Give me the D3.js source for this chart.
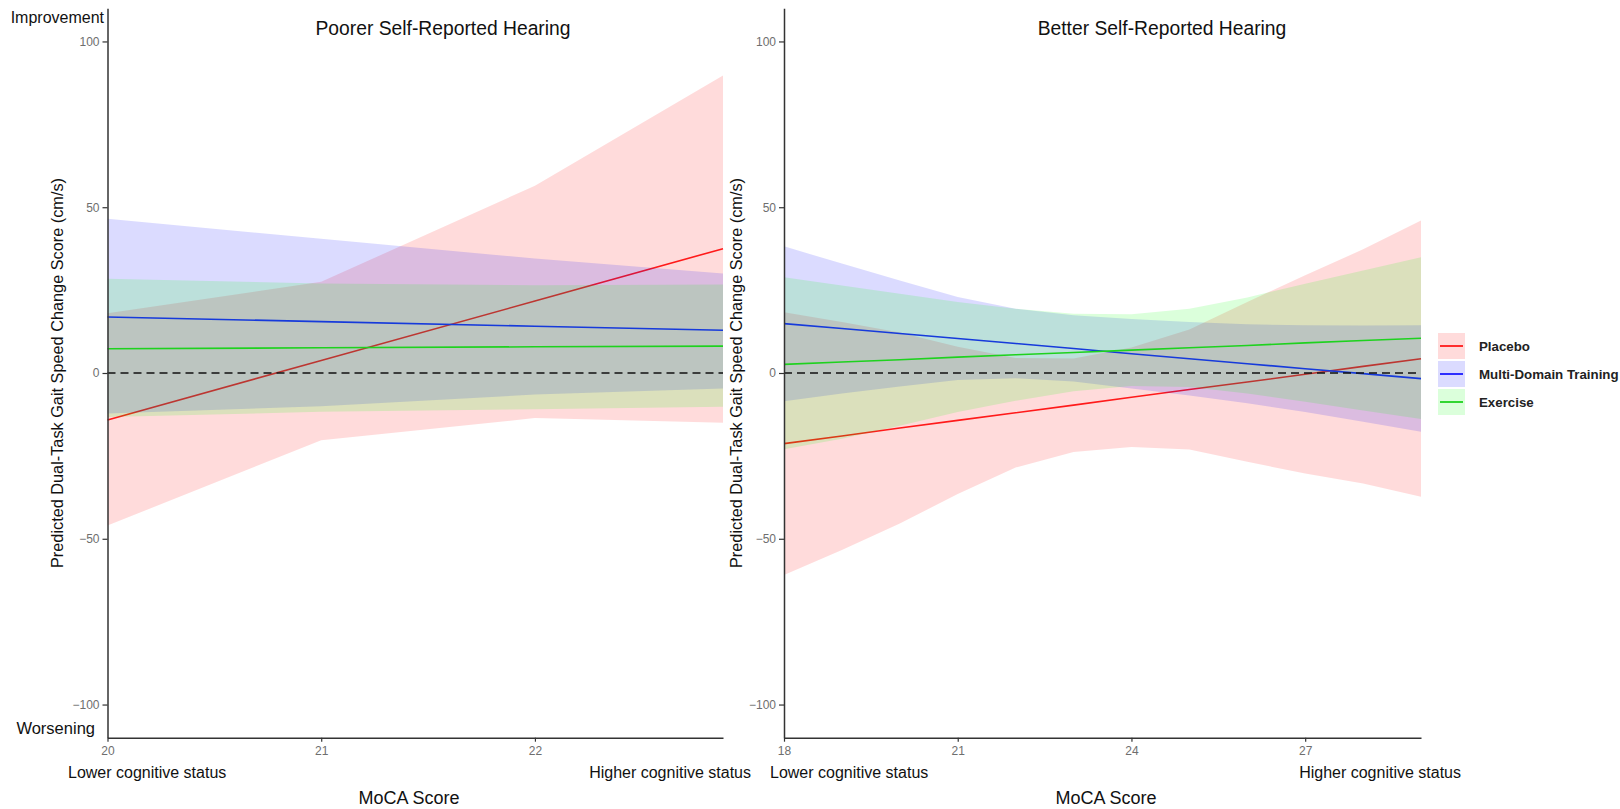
<!DOCTYPE html>
<html>
<head>
<meta charset="utf-8">
<script src="https://cdn.jsdelivr.net/npm/d3@7"></script>
<style>
  body { margin: 0; background: #fff; }
  svg { display: block; font-family: "Liberation Sans", Arial, Helvetica, sans-serif; }
</style>
</head>
<body>
<div id="chart"></div>
<script>
// groups, in legend order
var groups = ["Placebo", "Multi-Domain Training", "Exercise"];
var yTicks = [-100, -50, 0, 50, 100];

// Poorer self-reported hearing
var poorerMoca = [20, 21, 22, 22.88];
var poorerXTicks = [20, 21, 22];
var poorerPlaceboFit = [-14.2, 3.8, 21.7, 37.5];
var poorerPlaceboLow = [-46, -20.3, -13.6, -15];
var poorerPlaceboHigh = [18, 27.5, 56.5, 89.7];
var poorerMdtFit = [16.9, 15.5, 14.1, 12.9];
var poorerMdtLow = [-12.2, -10, -6.5, -4.7];
var poorerMdtHigh = [46.5, 40.5, 34.5, 30];
var poorerExFit = [7.3, 7.6, 7.9, 8.1];
var poorerExLow = [-13.3, -11.7, -10.9, -10.2];
var poorerExHigh = [28.4, 27, 26.5, 26.7];

// Better self-reported hearing
var betterMoca = [18, 19, 20, 21, 22, 23, 24, 25, 26, 27, 28, 29];
var betterXTicks = [18, 21, 24, 27];
var betterPlaceboFit = [-21.3, -19.0, -16.6, -14.3, -12.0, -9.7, -7.3, -5.0, -2.7, -0.4, 2.0, 4.3];
var betterPlaceboLow = [-60.9, -53.4, -45.4, -36.5, -28.5, -23.8, -22.3, -23.1, -26.8, -30.3, -33.3, -37.3];
var betterPlaceboHigh = [18.3, 15.4, 12.2, 7.9, 4.5, 4.4, 7.7, 13.1, 21.4, 29.5, 37.3, 46.0];
var betterMdtFit = [14.9, 13.4, 11.9, 10.4, 8.9, 7.4, 5.8, 4.3, 2.8, 1.3, -0.2, -1.7];
var betterMdtLow = [-8.5, -6.2, -4.1, -2.1, -1.6, -2.6, -4.7, -6.8, -9.1, -11.8, -14.7, -17.7];
var betterMdtHigh = [38.2, 33.0, 27.9, 22.9, 19.4, 17.4, 16.3, 15.4, 14.7, 14.4, 14.3, 14.4];
var betterExFit = [2.6, 3.3, 4.0, 4.8, 5.5, 6.2, 6.9, 7.6, 8.3, 9.1, 9.8, 10.5];
var betterExLow = [-23.0, -19.8, -15.9, -11.8, -8.4, -5.5, -3.9, -4.2, -6.2, -8.7, -11.3, -13.9];
var betterExHigh = [28.9, 26.4, 23.9, 21.4, 19.4, 17.9, 17.7, 19.4, 22.8, 26.9, 30.9, 34.9];

var lineColor = { "Placebo": "#ff1a1a", "Multi-Domain Training": "#1a1aff", "Exercise": "#1ed21e" };
var fillColor = { "Placebo": "#ff0000", "Multi-Domain Training": "#0000ff", "Exercise": "#00ff00" };
var fillAlpha = 0.14;

var width = 1620, height = 809;
var svg = d3.select("#chart").append("svg")
	.attr("width", width)
	.attr("height", height);

var yTop = 8.3, yBottom = 737.7;

// build rows for one group
function rows(moca, fit, low, high) {
	return moca.map(function(m, i) { return { x: m, fit: fit[i], lo: low[i], hi: high[i] }; });
}

var panels = [
	{
		title: "Poorer Self-Reported Hearing", titleX: 443,
		left: 107.5, right: 723, domain: [20, 22.88], ticks: poorerXTicks,
		ytitleX: 63, lowX: 68, highX: 751, mocaX: 409,
		series: [
			rows(poorerMoca, poorerPlaceboFit, poorerPlaceboLow, poorerPlaceboHigh),
			rows(poorerMoca, poorerMdtFit, poorerMdtLow, poorerMdtHigh),
			rows(poorerMoca, poorerExFit, poorerExLow, poorerExHigh)
		]
	},
	{
		title: "Better Self-Reported Hearing", titleX: 1162,
		left: 784, right: 1421, domain: [18, 29], ticks: betterXTicks,
		ytitleX: 742, lowX: 770, highX: 1461, mocaX: 1106,
		series: [
			rows(betterMoca, betterPlaceboFit, betterPlaceboLow, betterPlaceboHigh),
			rows(betterMoca, betterMdtFit, betterMdtLow, betterMdtHigh),
			rows(betterMoca, betterExFit, betterExLow, betterExHigh)
		]
	}
];

panels.forEach(function(p) {
	var x = d3.scaleLinear().domain(p.domain).range([p.left, p.right]);
	var y = d3.scaleLinear().domain([-110, 110]).range([yBottom, yTop]);

	var area = d3.area()
		.x(function(d) { return x(d.x); })
		.y0(function(d) { return y(d.lo); })
		.y1(function(d) { return y(d.hi); });
	var line = d3.line()
		.x(function(d) { return x(d.x); })
		.y(function(d) { return y(d.fit); });

	var g = svg.append("g");

	// ribbon then line, one group after another
	groups.forEach(function(name, i) {
		g.append("path")
			.attr("d", area(p.series[i]))
			.attr("fill", fillColor[name])
			.attr("fill-opacity", fillAlpha);
		g.append("path")
			.attr("d", line(p.series[i]))
			.attr("fill", "none")
			.attr("stroke", lineColor[name])
			.attr("stroke-width", 1.6);
	});

	// reference line at zero
	g.append("line")
		.attr("x1", x.range()[0]).attr("x2", x.range()[1])
		.attr("y1", y(0)).attr("y2", y(0))
		.attr("stroke", "#111")
		.attr("stroke-width", 1.7)
		.attr("stroke-dasharray", "8,5");

	// axes
	var yAxis = g.append("g")
		.attr("transform", "translate(" + p.left + ",0)")
		.call(d3.axisLeft(y).tickValues(yTicks).tickSize(5).tickSizeOuter(0).tickPadding(3));
	var xAxis = g.append("g")
		.attr("transform", "translate(0," + yBottom + ")")
		.call(d3.axisBottom(x).tickValues(p.ticks).tickFormat(d3.format("d"))
			.tickSize(4).tickSizeOuter(0).tickPadding(5));
	[yAxis, xAxis].forEach(function(a) {
		a.select(".domain").attr("stroke", "#333").attr("stroke-width", 1.5);
		a.selectAll(".tick line").attr("stroke", "#333").attr("stroke-width", 1.2);
		a.selectAll(".tick text")
			.attr("fill", "#6e6e6e")
			.style("font-size", "12px")
			.style("font-family", "Liberation Sans, Arial, sans-serif");
	});

	// titles
	svg.append("text")
		.attr("x", p.titleX).attr("y", 35)
		.attr("text-anchor", "middle")
		.style("font-size", "19.3px")
		.attr("fill", "#111")
		.text(p.title);

	svg.append("text")
		.attr("transform", "translate(" + p.ytitleX + "," + ((yTop + yBottom) / 2) + ") rotate(-90)")
		.attr("text-anchor", "middle")
		.style("font-size", "16.3px")
		.attr("fill", "#111")
		.text("Predicted Dual-Task Gait Speed Change Score (cm/s)");

	svg.append("text")
		.attr("x", p.lowX).attr("y", 778)
		.style("font-size", "16px")
		.attr("fill", "#111")
		.text("Lower cognitive status");
	svg.append("text")
		.attr("x", p.highX).attr("y", 778)
		.attr("text-anchor", "end")
		.style("font-size", "16px")
		.attr("fill", "#111")
		.text("Higher cognitive status");
	svg.append("text")
		.attr("x", p.mocaX).attr("y", 804)
		.attr("text-anchor", "middle")
		.style("font-size", "18px")
		.attr("fill", "#111")
		.text("MoCA Score");
});

// direction labels on the left axis
svg.append("text")
	.attr("x", 104).attr("y", 23)
	.attr("text-anchor", "end")
	.style("font-size", "16px")
	.attr("fill", "#111")
	.text("Improvement");
svg.append("text")
	.attr("x", 95).attr("y", 734)
	.attr("text-anchor", "end")
	.style("font-size", "16.5px")
	.attr("fill", "#111")
	.text("Worsening");

// legend
var legend = svg.append("g").attr("transform", "translate(1438,333)");
groups.forEach(function(name, i) {
	var row = legend.append("g").attr("transform", "translate(0," + (i * 28) + ")");
	row.append("rect")
		.attr("width", 27).attr("height", 26)
		.attr("fill", fillColor[name])
		.attr("fill-opacity", fillAlpha);
	row.append("line")
		.attr("x1", 2).attr("x2", 25)
		.attr("y1", 13).attr("y2", 13)
		.attr("stroke", lineColor[name])
		.attr("stroke-width", 1.8);
	row.append("text")
		.attr("x", 41).attr("y", 18)
		.style("font-size", "13.3px")
		.style("font-weight", "bold")
		.attr("fill", "#222")
		.text(name);
});
</script>
</body>
</html>
